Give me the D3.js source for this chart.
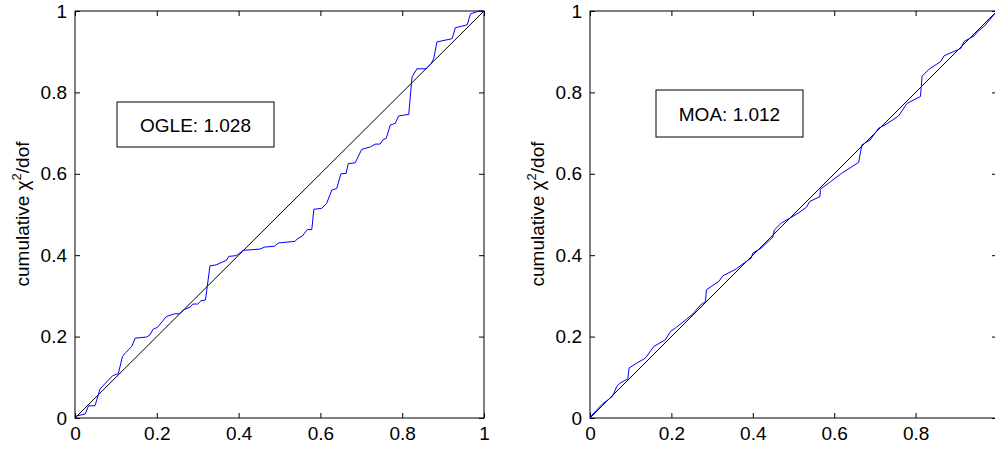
<!DOCTYPE html><html><head><meta charset="utf-8"><script src="https://cdn.jsdelivr.net/npm/d3@7"></script>
<style>body{margin:0;background:#fff}svg{font-family:"Liberation Sans",Arial,sans-serif}</style></head><body><svg id="c" width="995" height="451"></svg><script>
const ticks=[0,0.2,0.4,0.6,0.8,1];
const moaTicks=[0,0.2,0.4,0.6,0.8];
const ogleX=[0,0.025,0.033,0.049,0.061,0.075,0.092,0.106,0.116,0.124,0.139,0.147,0.175,0.183,0.191,0.202,0.223,0.243,0.255,0.268,0.281,0.288,0.3,0.308,0.319,0.33,0.345,0.362,0.37,0.376,0.394,0.412,0.452,0.464,0.488,0.497,0.538,0.543,0.556,0.568,0.579,0.584,0.603,0.615,0.628,0.64,0.65,0.663,0.668,0.685,0.701,0.722,0.734,0.746,0.753,0.761,0.771,0.783,0.791,0.816,0.824,0.836,0.859,0.871,0.877,0.885,0.922,0.93,0.959,0.967,0.988,1];
const ogleY=[0.004,0.01,0.03,0.03,0.071,0.086,0.104,0.109,0.151,0.161,0.176,0.196,0.199,0.204,0.218,0.223,0.249,0.256,0.256,0.267,0.272,0.28,0.28,0.288,0.29,0.374,0.376,0.384,0.387,0.397,0.399,0.412,0.415,0.42,0.422,0.43,0.434,0.44,0.447,0.463,0.463,0.513,0.515,0.527,0.56,0.564,0.6,0.601,0.625,0.627,0.66,0.666,0.673,0.673,0.684,0.687,0.72,0.724,0.742,0.746,0.838,0.858,0.858,0.871,0.883,0.924,0.932,0.959,0.966,0.993,1,1];
const moaX=[0,0.029,0.055,0.066,0.074,0.093,0.096,0.115,0.136,0.157,0.185,0.198,0.21,0.235,0.251,0.272,0.284,0.286,0.317,0.326,0.359,0.379,0.396,0.4,0.42,0.449,0.453,0.47,0.491,0.511,0.532,0.54,0.565,0.566,0.589,0.618,0.66,0.668,0.688,0.709,0.725,0.758,0.779,0.812,0.816,0.833,0.862,0.87,0.911,0.919,0.944,0.952,0.969,1];
const moaY=[0.002,0.033,0.053,0.078,0.086,0.096,0.123,0.135,0.147,0.176,0.192,0.213,0.221,0.241,0.254,0.278,0.286,0.315,0.336,0.349,0.366,0.381,0.393,0.405,0.417,0.444,0.462,0.479,0.491,0.503,0.518,0.532,0.544,0.562,0.579,0.601,0.628,0.671,0.683,0.712,0.72,0.742,0.773,0.79,0.84,0.857,0.876,0.89,0.908,0.925,0.939,0.949,0.963,1];
const svg=d3.select("#c");
function panel(x0,x1,xs,ys,label,box,xt){
  const x=d3.scaleLinear().domain([0,1]).range([x0,x1]);
  const y=d3.scaleLinear().domain([0,1]).range([418,11]);
  const g=svg.append("g");
  g.append("rect").attr("x",x0).attr("y",11).attr("width",x1-x0).attr("height",407).attr("fill","none").attr("stroke","#000");
  const fmt=d=>String(d);
  g.append("g").attr("transform","translate(0,418)").call(d3.axisBottom(x).tickValues(xt).tickSize(-5).tickPadding(9).tickFormat(fmt));
  g.append("g").attr("transform","translate(0,11)").call(d3.axisTop(x).tickValues(xt).tickSize(-5).tickFormat(""));
  g.append("g").attr("transform",`translate(${x0},0)`).call(d3.axisLeft(y).tickValues(ticks).tickSize(-5).tickPadding(8).tickFormat(fmt));
  g.append("g").attr("transform",`translate(${x1},0)`).call(d3.axisRight(y).tickValues(ticks).tickSize(-5).tickFormat(""));
  g.selectAll(".domain").remove();
  g.selectAll(".tick text").attr("font-size",19).attr("font-family","Liberation Sans,Arial,sans-serif").attr("fill","#000");
  g.selectAll(".tick line").attr("stroke","#000");
  g.append("line").attr("x1",x(0)).attr("y1",y(0)).attr("x2",x(1)).attr("y2",y(1)).attr("stroke","#000").attr("stroke-width",1);
  g.append("path").datum(xs.map((v,i)=>[v,ys[i]])).attr("d",d3.line().x(d=>x(d[0])).y(d=>y(d[1]))).attr("fill","none").attr("stroke","#0000ff").attr("stroke-width",1);
  g.append("rect").attr("x",box[0]).attr("y",box[1]).attr("width",box[2]).attr("height",box[3]).attr("fill","#fff").attr("stroke","#000");
  g.append("text").attr("x",box[0]+box[2]/2).attr("y",box[1]+box[3]/2+7).attr("text-anchor","middle").attr("font-size",19).text(label);
  const t=g.append("text").attr("transform",`translate(${x0-46},214) rotate(-90)`).attr("text-anchor","middle").attr("font-size",19);
  t.append("tspan").text("cumulative ");
  t.append("tspan").text("χ");
  t.append("tspan").attr("dy",-8).attr("font-size",13).text("2");
  t.append("tspan").attr("dy",8).text("/dof");
}
panel(75,484,ogleX,ogleY,"OGLE: 1.028",[117,102,157,45],ticks);
panel(590,997,moaX,moaY,"MOA: 1.012",[656,90,147,47],moaTicks);
</script></body></html>
